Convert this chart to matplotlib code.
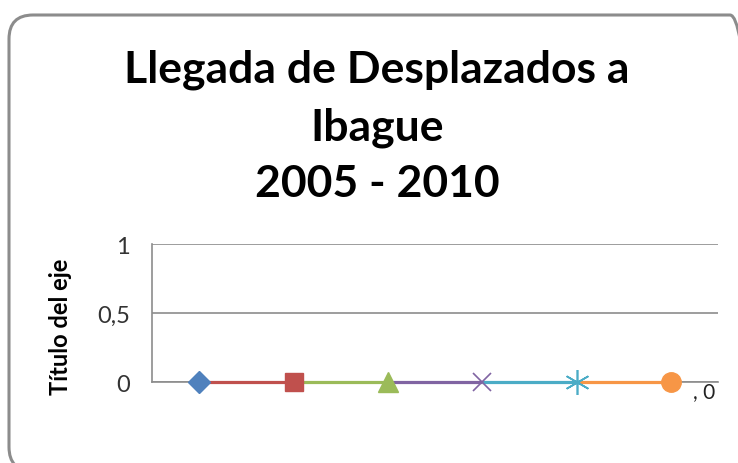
import matplotlib
matplotlib.use('Agg')
import matplotlib.pyplot as plt
from matplotlib.patches import FancyBboxPatch

years = ['2005', '2006', '2007', '2008', '2009', '2010']
llegadas = [0, 0, 0, 0, 0, 0]
colores = ['#4F81BD', '#C0504D', '#9BBB59', '#8064A2', '#4BACC6', '#F79646']
marcadores = ['D', 's', '^', 'x', '*', 'o']
yticks = [0, 0.5, 1]
ytick_labels = ['0', '0,5', '1']

plt.rcParams['font.family'] = ['Lato', 'DejaVu Sans']

fig = plt.figure(figsize=(7.38, 4.64), dpi=100)

# marco redondeado estilo Excel (en pixeles)
marco = FancyBboxPatch((9, -8), 745, 456,
                       boxstyle='round,pad=0,rounding_size=24',
                       transform=None, facecolor='none',
                       edgecolor='#8C8C8C', linewidth=2.2, zorder=0)
fig.patches.append(marco)

ax = fig.add_axes([152 / 738, 1 - 383 / 464, 566 / 738, 138 / 464])
ax.set_facecolor('none')

x = list(range(len(years)))
for i in range(1, len(x)):
    ax.plot(x[i - 1:i + 1], llegadas[i - 1:i + 1], color=colores[i],
            linewidth=2.3, solid_capstyle='butt', zorder=3, clip_on=False)
for i in range(len(x)):
    m = marcadores[i]
    if m == 'x':
        ax.plot(x[i], llegadas[i], marker=m, markersize=13, color=colores[i],
                markeredgewidth=1.2, linestyle='none', zorder=4, clip_on=False)
    elif m == '*':
        ax.plot(x[i], llegadas[i], marker=(6, 2, 0), markersize=18, color=colores[i],
                markeredgewidth=1.2, linestyle='none', zorder=4, clip_on=False)
    else:
        size = {'D': 11, 's': 13, '^': 14, 'o': 14}[m]
        ax.plot(x[i], llegadas[i], marker=m, markersize=size, color=colores[i],
                markeredgecolor=colores[i], linestyle='none', zorder=4, clip_on=False)

ax.text(x[-1] + 0.24, llegadas[-1] + 0.01, ', 0', fontsize=15, color='#222222',
        va='top', ha='left')

ax.set_xlim(-0.5, len(x) - 0.5)
ax.set_ylim(0, 1)
ax.set_yticks(yticks)
ax.set_yticklabels(ytick_labels, fontsize=17, color='#333333')
ax.set_xticks([])
ax.tick_params(axis='y', length=0, pad=16)
ax.grid(axis='y', color='#8C8C8C', linewidth=1.2)
ax.set_axisbelow(True)
for s in ['top', 'right']:
    ax.spines[s].set_visible(False)
ax.spines['left'].set_color('#8C8C8C')
ax.spines['bottom'].set_color('#8C8C8C')
ax.spines['left'].set_linewidth(1.2)
ax.spines['bottom'].set_linewidth(1.2)

ax.set_ylabel('Título del eje', fontsize=17, fontweight='bold')
ax.yaxis.set_label_coords(-0.141, 0.41)

fig.text(377 / 738, 1 - 127 / 464, 'Llegada de Desplazados a\nIbague\n2005 - 2010',
         ha='center', va='center', fontsize=32, fontweight='bold',
         linespacing=1.5, color='black')

fig.savefig('out.png', dpi=100)
